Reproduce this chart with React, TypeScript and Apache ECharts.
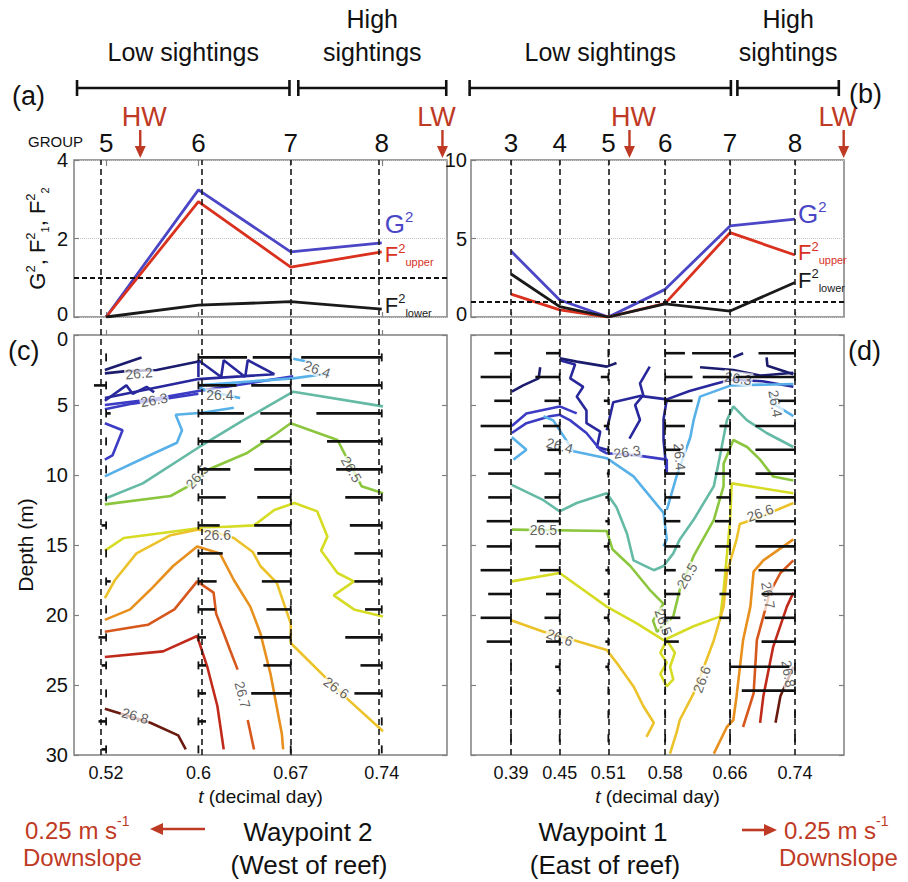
import React, { useEffect, useRef } from 'react';
import * as echarts from 'echarts';

// ---------------- DATA ----------------
// Waypoint 2 (panels a, c)
const stationsA = [0.524, 0.597, 0.67, 0.742];
const groupsA = ['5', '6', '7', '8'];
const tickLabelsA = ['0.52', '0.6', '0.67', '0.74'];
const g2A = [0, 3.24, 1.66, 1.89];
const fUpperA = [0, 2.94, 1.27, 1.66];
const fLowerA = [0, 0.3, 0.39, 0.2];

// Waypoint 1 (panels b, d)
const stationsB = [0.39, 0.45, 0.51, 0.58, 0.66, 0.74];
const groupsB = ['3', '4', '5', '6', '7', '8'];
const tickLabelsB = ['0.39', '0.45', '0.51', '0.58', '0.66', '0.74'];
const g2B = [4.2, 1.08, 0, 1.76, 5.8, 6.24];
const fUpperB = [1.46, 0.45, 0, 0.87, 5.37, 3.95];
const fLowerB = [2.74, 0.66, 0, 0.83, 0.38, 2.2];

const thresholdG2 = 1;

const tideA = [{ name: 'HW', t: 0.551 }, { name: 'LW', t: 0.79 }];
const tideB = [{ name: 'HW', t: 0.536 }, { name: 'LW', t: 0.8 }];

const sightingsA = [
  { name: 'Low sightings', from: 0.501, to: 0.669 },
  { name: 'High\nsightings', from: 0.676, to: 0.793 },
];
const sightingsB = [
  { name: 'Low sightings', from: 0.339, to: 0.661 },
  { name: 'High\nsightings', from: 0.669, to: 0.794 },
];

// velocity rows (depth, m) and eastward velocity (m/s) per station
const depthsC = [1.6, 3.6, 5.6, 7.6, 9.6, 11.6, 13.6, 15.6, 17.6, 19.6, 21.6, 23.6, 25.6, 27.6, 29.6];
const uC5 = [0, -0.08, 0.03, 0, 0, 0, -0.03, 0, 0.03, 0, -0.05, -0.03, 0, -0.05, -0.03];
const uC6 = [0.32, 0.25, 0.3, 0.28, 0.21, 0.18, 0.14, 0.16, 0.12, 0.11, 0.05, 0.05, 0.05, 0.05, 0];
const uC7 = [-0.25, -0.26, -0.2, -0.2, -0.24, -0.22, -0.24, -0.22, -0.19, -0.16, -0.24, -0.18, -0.26, 0, 0];
const uC8 = [-0.53, -0.53, -0.43, -0.36, -0.3, -0.24, -0.21, -0.18, -0.18, -0.11, -0.24, -0.14, -0.18, 0, 0];

const depthsD = [1.3, 3.0, 4.7, 6.5, 8.2, 9.9, 11.6, 13.3, 15.1, 16.8, 18.5, 20.2, 21.9, 23.7, 25.4, 27.1, 28.8];
const uD3 = [-0.11, -0.2, -0.11, -0.2, -0.11, -0.15, -0.15, -0.16, -0.16, -0.2, -0.15, -0.2, -0.16, 0, 0, 0, 0];
const uD4 = [-0.09, -0.16, -0.1, -0.11, -0.08, -0.1, -0.1, -0.15, -0.16, -0.13, -0.09, -0.1, -0.09, -0.03, -0.02, 0, 0];
const uD5 = [0, -0.05, -0.03, -0.03, -0.01, -0.01, -0.02, -0.02, -0.03, -0.02, -0.03, -0.03, -0.02, -0.02, 0, 0, 0];
const uD6 = [0.13, 0.18, 0.18, 0.13, 0.1, 0.13, 0.1, 0.1, 0.1, 0.07, 0.1, 0.1, 0.09, 0, 0, 0, 0];
const uD7 = [-0.25, -0.18, -0.08, -0.07, -0.1, -0.1, -0.09, -0.1, -0.1, -0.1, -0.07, -0.07, 0, 0.39, 0, 0, 0];
const uD8 = [-0.24, -0.39, -0.11, -0.26, -0.26, -0.26, -0.26, -0.26, -0.26, -0.24, -0.22, -0.2, -0.22, 0, -0.35, 0, 0];

// density contours, panel (c): [t, depth]
const c262a = [[0.523, 2.5], [0.552, 1.6]];
const c262b = [[0.523, 2.74], [0.538, 2.6], [0.564, 2.5], [0.597, 1.9]];
const c2625a = [[0.597, 3.0], [0.597, 1.8], [0.615, 3.0], [0.617, 1.8], [0.634, 3.0], [0.636, 1.8], [0.657, 2.8], [0.597, 3.15], [0.523, 4.5]];
const c2625b = [[0.523, 4.7], [0.54, 3.6], [0.545, 4.2], [0.556, 3.7], [0.562, 4.1]];
const c263a = [[0.523, 5.0], [0.56, 4.6], [0.597, 4.0], [0.64, 3.4], [0.672, 2.95]];
const c263b = [[0.523, 5.3], [0.545, 4.9], [0.575, 4.5], [0.597, 4.2]];
const c263c = [[0.523, 6.3], [0.537, 6.8], [0.529, 8.6], [0.523, 8.9]];
const c264a = [[0.523, 10.1], [0.556, 8.7], [0.58, 7.7], [0.584, 6.8], [0.579, 5.7], [0.6, 5.55], [0.625, 5.2]];
const c264b = [[0.597, 3.6], [0.64, 3.3], [0.672, 3.1], [0.7, 2.75]];
const c264c = [[0.672, 1.7], [0.686, 1.95]];
const c264d = [[0.597, 3.7], [0.604, 4.0], [0.63, 4.5]];
const c2645 = [[0.523, 11.7], [0.553, 10.6], [0.598, 7.98], [0.633, 6.07], [0.672, 4.05], [0.743, 5.1]];
const c265 = [[0.523, 12.1], [0.575, 11.5], [0.593, 10.6], [0.604, 9.64], [0.635, 8.45], [0.659, 7.02], [0.67, 6.3], [0.707, 7.5], [0.715, 8.9], [0.726, 10.8], [0.743, 11.3]];
const c2655 = [[0.523, 15.4], [0.538, 14.5], [0.597, 13.8], [0.641, 13.6], [0.657, 12.5], [0.673, 12.0], [0.691, 12.6], [0.699, 14.4], [0.694, 15.4], [0.707, 17.0], [0.72, 17.6], [0.704, 18.6], [0.72, 19.6], [0.743, 20.1]];
const c266 = [[0.523, 18.8], [0.531, 17.5], [0.548, 15.6], [0.575, 14.3], [0.597, 13.9], [0.611, 14.1], [0.625, 14.5], [0.64, 15.5], [0.646, 16.5], [0.659, 17.7], [0.67, 20.6], [0.67, 22.0], [0.699, 24.6], [0.71, 25.6], [0.743, 28.3]];
const c2665 = [[0.523, 20.35], [0.543, 19.6], [0.559, 18.2], [0.577, 16.5], [0.596, 15.1], [0.614, 15.6], [0.625, 17.5], [0.638, 19.4], [0.646, 21.3], [0.654, 24.2], [0.663, 28.5], [0.664, 29.6]];
const c267a = [[0.523, 21.2], [0.557, 20.7], [0.578, 19.6], [0.596, 17.6], [0.609, 18.4], [0.611, 19.9], [0.617, 21.3], [0.622, 22.5], [0.628, 23.9]];
const c267b = [[0.636, 27.5], [0.641, 29.6]];
const c2675 = [[0.523, 23.0], [0.569, 22.6], [0.596, 21.5], [0.604, 23.7], [0.612, 26.5], [0.617, 29.6]];
const c268 = [[0.523, 26.7], [0.559, 27.7], [0.581, 28.6], [0.587, 29.6]];

// density contours, panel (d)
const d262a = [[0.391, 4.05], [0.405, 3.6], [0.424, 3.1], [0.426, 2.3]];
const d262b = [[0.45, 1.67], [0.471, 1.9], [0.508, 2.26], [0.52, 2.0]];
const d262c = [[0.623, 2.3], [0.664, 2.5], [0.697, 2.9], [0.738, 2.7]];
const d262d = [[0.705, 1.6], [0.706, 2.2], [0.738, 2.8]];
const d262e = [[0.664, 1.6], [0.676, 1.3]];
const d2625a = [[0.45, 1.8], [0.469, 2.1], [0.463, 3.1], [0.479, 3.7], [0.471, 4.4], [0.483, 5.4], [0.483, 6.3], [0.5, 6.9], [0.496, 8.0], [0.508, 8.2]];
const d2625b = [[0.536, 7.4], [0.549, 6.07], [0.543, 5.0], [0.553, 4.3], [0.549, 3.45], [0.561, 2.26]];
const d2625c = [[0.508, 6.8], [0.516, 4.8], [0.549, 4.35], [0.582, 4.6], [0.578, 6.0], [0.578, 7.5], [0.582, 9.9]];
const d2625d = [[0.582, 4.6], [0.61, 4.0], [0.641, 3.5], [0.661, 3.2], [0.7, 3.3], [0.738, 3.7]];
const d263a = [[0.391, 7.0], [0.409, 6.3], [0.438, 5.8], [0.45, 5.7], [0.463, 6.1], [0.483, 7.0], [0.5, 8.2], [0.508, 8.45], [0.545, 8.6], [0.582, 8.9], [0.582, 9.9]];
const d263b = [[0.391, 6.5], [0.409, 5.6], [0.45, 5.1], [0.471, 5.6]];
const d264a = [[0.391, 7.3], [0.409, 8.2], [0.393, 8.9]];
const d264b = [[0.43, 5.8], [0.442, 6.1], [0.467, 8.3], [0.508, 8.8], [0.541, 10.1], [0.578, 12.7], [0.582, 14.6], [0.578, 15.1]];
const d264c = [[0.738, 3.5], [0.661, 3.6], [0.623, 4.4], [0.615, 6.1], [0.611, 7.3], [0.594, 10.1], [0.582, 12.5]];
const d264d = [[0.709, 4.1], [0.713, 4.9], [0.738, 5.8]];
const d2645 = [[0.391, 10.7], [0.43, 11.8], [0.45, 12.6], [0.471, 12.0], [0.508, 11.3], [0.52, 12.3], [0.533, 14.2], [0.541, 16.1], [0.566, 16.8], [0.578, 16.5], [0.59, 15.6], [0.598, 14.6], [0.615, 13.2], [0.64, 10.8], [0.648, 8.5], [0.656, 6.1], [0.664, 5.1], [0.681, 6.1], [0.705, 7.0], [0.738, 8.0]];
const d265 = [[0.391, 13.9], [0.508, 14.0], [0.515, 15.3], [0.537, 16.5], [0.561, 18.2], [0.578, 19.2], [0.565, 20.4], [0.57, 21.2], [0.59, 20.1], [0.598, 18.2], [0.615, 15.8], [0.64, 13.2], [0.652, 10.8], [0.652, 9.2], [0.664, 7.5], [0.681, 8.0], [0.697, 8.9], [0.713, 10.1], [0.738, 10.4]];
const d2655a = [[0.391, 17.6], [0.45, 17.0], [0.508, 19.4], [0.545, 20.6], [0.578, 21.8], [0.615, 20.8], [0.648, 20.1], [0.652, 18.2], [0.656, 15.8], [0.66, 13.2], [0.662, 10.6], [0.738, 11.3]];
const d2655b = [[0.582, 21.8], [0.574, 22.7], [0.582, 23.4], [0.574, 24.2], [0.582, 25.1], [0.59, 24.6], [0.586, 23.7], [0.592, 22.7], [0.582, 21.8]];
const d266a = [[0.391, 20.4], [0.43, 21.2], [0.45, 21.5], [0.508, 22.5], [0.52, 23.4], [0.541, 25.1], [0.553, 26.5], [0.566, 27.7], [0.557, 28.7]];
const d266b = [[0.586, 29.9], [0.594, 28.4], [0.598, 27.5], [0.615, 25.6], [0.631, 23.2], [0.64, 21.8], [0.652, 19.4], [0.656, 17.0], [0.668, 14.6], [0.672, 13.5], [0.697, 13.0], [0.738, 12.0]];
const d2665 = [[0.64, 29.9], [0.656, 28.0], [0.664, 27.5], [0.668, 25.8], [0.676, 21.8], [0.685, 19.4], [0.689, 16.9], [0.701, 16.1], [0.738, 14.6]];
const d267 = [[0.676, 28.0], [0.689, 25.6], [0.693, 21.8], [0.709, 18.4], [0.722, 17.0], [0.738, 16.1]];
const d2675 = [[0.697, 27.7], [0.701, 25.8], [0.713, 22.3], [0.73, 19.4], [0.738, 18.4]];
const d268 = [[0.716, 27.7], [0.722, 25.8], [0.738, 23.7]];

// contour labels: [t, depth, text, rotation]
const labelsC: [number, number, string, number][] = [
  [0.55, 2.74, '26.2', 5], [0.562, 4.64, '26.3', 10], [0.614, 4.3, '26.4', 0], [0.691, 2.45, '26.4', -20],
  [0.596, 10.1, '26.5', 50], [0.718, 9.6, '26.5', -60], [0.612, 14.3, '26.6', 0], [0.706, 25.2, '26.6', -35],
  [0.632, 25.7, '26.7', -75], [0.547, 27.2, '26.8', -15],
];
const labelsD: [number, number, string, number][] = [
  [0.45, 7.9, '26.4', -15], [0.533, 8.35, '26.3', 8], [0.598, 8.7, '26.4', -85], [0.67, 3.1, '26.3', -8],
  [0.716, 4.9, '26.4', -80], [0.43, 13.9, '26.5', 0], [0.607, 17.2, '26.5', 60], [0.578, 20.5, '26.5', -70],
  [0.45, 21.6, '26.6', -20], [0.625, 24.6, '26.6', 70], [0.697, 12.7, '26.6', 20], [0.707, 18.6, '26.7', -80],
  [0.732, 24.2, '26.8', -80],
];

const contoursC: [string, number[][]][] = [
  ['26.2', c262a], ['26.2', c262b], ['26.25', c2625a], ['26.25', c2625b], ['26.3', c263a], ['26.3', c263b], ['26.3', c263c],
  ['26.4', c264a], ['26.4', c264b], ['26.4', c264c], ['26.4', c264d], ['26.45', c2645], ['26.5', c265], ['26.55', c2655],
  ['26.6', c266], ['26.65', c2665], ['26.7', c267a], ['26.7', c267b], ['26.75', c2675], ['26.8', c268],
];
const contoursD: [string, number[][]][] = [
  ['26.2', d262a], ['26.2', d262b], ['26.2', d262c], ['26.2', d262d], ['26.2', d262e], ['26.25', d2625a], ['26.25', d2625b],
  ['26.25', d2625c], ['26.25', d2625d], ['26.3', d263a], ['26.3', d263b], ['26.4', d264a], ['26.4', d264b], ['26.4', d264c],
  ['26.4', d264d], ['26.45', d2645], ['26.5', d265], ['26.55', d2655a], ['26.55', d2655b], ['26.6', d266a], ['26.6', d266b],
  ['26.65', d2665], ['26.7', d267], ['26.75', d2675], ['26.8', d268],
];

// ---------------- STYLE ----------------
const FONT = '"Liberation Sans", Arial, Helvetica, sans-serif';
const RED = '#bf3a24';
const BLUE = '#4a46c6';
const LRED = '#d9311e';
const FRAME = '#808080';
const ARROW_PX_PER_MS = 152;
const levelColors: Record<string, string> = {
  '26.2': '#1c1c6e', '26.25': '#28289c', '26.3': '#3b3bc4', '26.4': '#58b0e8', '26.45': '#64baa4',
  '26.5': '#8cc63e', '26.55': '#d6dc24', '26.6': '#ecc22a', '26.65': '#e8901e', '26.7': '#d6581c',
  '26.75': '#c02a1a', '26.8': '#6a1a0e',
};
const X_RANGE_A = [0.4986, 0.7936];
const X_RANGE_B = [0.3407, 0.8004];

const labelAt = (vals: number[], labels: string[]) => (v: number) => {
  let best = 0;
  vals.forEach((s, i) => { if (Math.abs(s - v) < Math.abs(vals[best] - v)) best = i; });
  return labels[best];
};

const supRich = (main: number, color: string) => ({
  m: { fontSize: main, lineHeight: main + 4, verticalAlign: 'middle', color, fontFamily: FONT },
  s: { fontSize: Math.round(main * 0.58), verticalAlign: 'top', color, fontFamily: FONT },
  u: { fontSize: Math.round(main * 0.5), verticalAlign: 'bottom', color, fontFamily: FONT },
});

function buildOption() {
  const grids = [
    { left: 74, top: 160, width: 373, height: 157, show: true },
    { left: 471, top: 160, width: 373, height: 157, show: true },
    { left: 74, top: 335, width: 373, height: 420, show: true },
    { left: 471, top: 335, width: 373, height: 420, show: true },
    { left: 74, top: 160, width: 373, height: 595, show: false },
    { left: 471, top: 160, width: 373, height: 595, show: false },
  ].map((g) => ({ ...g, borderColor: FRAME, borderWidth: 1.5, backgroundColor: 'transparent' }));

  const tick = (vals: number[], len = 5) => ({ show: true, inside: true, length: len, customValues: vals, lineStyle: { color: FRAME, width: 1.2 } });
  const xNameStyle = { fontSize: 19, color: '#111', rich: { i: { fontStyle: 'italic', fontSize: 19, color: '#111', fontFamily: FONT } } };

  const xAxis: any[] = [
    { gridIndex: 0, type: 'value', min: X_RANGE_A[0], max: X_RANGE_A[1], axisLine: { show: false }, axisTick: tick(stationsA), axisLabel: { show: false }, splitLine: { show: false } },
    { gridIndex: 1, type: 'value', min: X_RANGE_B[0], max: X_RANGE_B[1], axisLine: { show: false }, axisTick: tick(stationsB), axisLabel: { show: false }, splitLine: { show: false } },
    {
      gridIndex: 2, type: 'value', min: X_RANGE_A[0], max: X_RANGE_A[1], axisLine: { show: false }, axisTick: tick(stationsA), splitLine: { show: false },
      axisLabel: { show: true, customValues: stationsA, formatter: labelAt(stationsA, tickLabelsA), fontSize: 18, color: '#111', margin: 9 },
      name: '{i|t} (decimal day)', nameLocation: 'middle', nameGap: 32, nameTextStyle: xNameStyle,
    },
    {
      gridIndex: 3, type: 'value', min: X_RANGE_B[0], max: X_RANGE_B[1], axisLine: { show: false }, axisTick: tick(stationsB), splitLine: { show: false },
      axisLabel: { show: true, customValues: stationsB, formatter: labelAt(stationsB, tickLabelsB), fontSize: 18, color: '#111', margin: 9 },
      name: '{i|t} (decimal day)', nameLocation: 'middle', nameGap: 32, nameTextStyle: xNameStyle,
    },
    {
      gridIndex: 0, type: 'value', position: 'top', min: X_RANGE_A[0], max: X_RANGE_A[1], axisLine: { show: false }, axisTick: tick(stationsA, 6), splitLine: { show: false },
      axisLabel: { show: true, customValues: stationsA, formatter: labelAt(stationsA, groupsA), fontSize: 26, lineHeight: 24, color: '#111', margin: 5 },
    },
    {
      gridIndex: 1, type: 'value', position: 'top', min: X_RANGE_B[0], max: X_RANGE_B[1], axisLine: { show: false }, axisTick: tick(stationsB, 6), splitLine: { show: false },
      axisLabel: { show: true, customValues: stationsB, formatter: labelAt(stationsB, groupsB), fontSize: 26, lineHeight: 24, color: '#111', margin: 5 },
    },
    { gridIndex: 4, type: 'value', min: X_RANGE_A[0], max: X_RANGE_A[1], show: false },
    { gridIndex: 5, type: 'value', min: X_RANGE_B[0], max: X_RANGE_B[1], show: false },
  ];

  const yTick = { show: true, inside: true, length: 5, lineStyle: { color: FRAME, width: 1.2 } };
  const dotted = { show: true, lineStyle: { type: 'dotted', color: '#c4c4c4', width: 1 } };
  const yLabTop = { fontSize: 20, lineHeight: 7, color: '#111', margin: 6, verticalAlignMinLabel: 'bottom' };
  const yLabDepth = { fontSize: 20, lineHeight: 7, color: '#111', margin: 6, verticalAlignMinLabel: 'top' };
  const yAxis: any[] = [
    {
      gridIndex: 0, type: 'value', min: 0, max: 4, interval: 2, axisLine: { show: false }, axisTick: yTick, splitLine: dotted,
      axisLabel: yLabTop,
      name: '{m|G}{s|2}{m|, F}{s|2}{u|1}{m|, F}{s|2}{u|2}', nameLocation: 'middle', nameRotate: 90, nameGap: 24,
      nameTextStyle: { rich: supRich(22, '#111') },
    },
    { gridIndex: 1, type: 'value', min: 0, max: 10, interval: 5, axisLine: { show: false }, axisTick: yTick, splitLine: dotted, axisLabel: { ...yLabTop, margin: 4 } },
    {
      gridIndex: 2, type: 'value', inverse: true, min: 0, max: 30, interval: 5, axisLine: { show: false }, axisTick: yTick, splitLine: { show: false },
      axisLabel: yLabDepth,
      name: 'Depth (m)', nameLocation: 'middle', nameGap: 38, nameTextStyle: { fontSize: 21, color: '#111' },
    },
    { gridIndex: 3, type: 'value', inverse: true, min: 0, max: 30, interval: 5, axisLine: { show: false }, axisTick: yTick, splitLine: { show: false }, axisLabel: { show: false } },
    { gridIndex: 4, type: 'value', min: 0, max: 1, show: false },
    { gridIndex: 5, type: 'value', min: 0, max: 1, show: false },
    { gridIndex: 2, type: 'value', position: 'right', inverse: true, min: 0, max: 30, interval: 5, axisLine: { show: false }, axisTick: yTick, splitLine: { show: false }, axisLabel: { show: false } },
    { gridIndex: 3, type: 'value', position: 'right', inverse: true, min: 0, max: 30, interval: 5, axisLine: { show: false }, axisTick: yTick, splitLine: { show: false }, axisLabel: { show: false } },
  ];

  const series: any[] = [];

  // dashed station lines through both panels
  [[stationsA, 6, 4], [stationsB, 7, 5]].forEach(([st, xi, yi]: any) => {
    series.push({
      type: 'line', xAxisIndex: xi, yAxisIndex: yi, data: [[st[0], 0]], showSymbol: false, symbol: 'none', lineStyle: { width: 0 }, z: 1, silent: true,
      markLine: { silent: true, symbol: ['none', 'none'], label: { show: false }, lineStyle: { type: [6, 4], color: '#1a1a1a', width: 1.6 }, data: st.map((t: number) => ({ xAxis: t })) },
    });
  });

  // top panels
  const topPanels = [
    { st: stationsA, g: g2A, fu: fUpperA, fl: fLowerA, xi: 0, yi: 0, off: { g: [0, -19], fu: [0, 3], fl: [0, -4] } },
    { st: stationsB, g: g2B, fu: fUpperB, fl: fLowerB, xi: 1, yi: 1, off: { g: [0, -5], fu: [0, -2], fl: [0, -2] } },
  ];
  topPanels.forEach((p) => {
    const mk = (vals: number[], color: string, text: string, rich: any, offset: number[], extra: any = {}) => ({
      type: 'line', xAxisIndex: p.xi, yAxisIndex: p.yi, symbol: 'none', z: 3,
      data: p.st.map((t, i) => [t, vals[i]]), lineStyle: { color, width: 2.8 },
      endLabel: { show: true, formatter: () => text, rich, offset, distance: 3 },
      ...extra,
    });
    series.push(mk(p.g, BLUE, '{m|G}{s|2}', supRich(26, BLUE), p.off.g));
    series.push(mk(p.fu, LRED, '{m|F}{s|2}{u|upper}', supRich(22, LRED), p.off.fu));
    series.push(mk(p.fl, '#1a1a1a', '{m|F}{s|2}{u|lower}', supRich(22, '#1a1a1a'), p.off.fl, {
      markLine: { silent: true, symbol: ['none', 'none'], label: { show: false }, lineStyle: { type: [5, 3], color: '#111', width: 2.2 }, data: [{ yAxis: thresholdG2 }] },
    }));
  });

  // contours
  const pushContours = (list: [string, number[][]][], xi: number, yi: number) => {
    list.forEach(([lvl, data]) => {
      series.push({ type: 'line', xAxisIndex: xi, yAxisIndex: yi, symbol: 'none', data, z: 2, silent: true, lineStyle: { color: levelColors[lvl], width: 2.6 } });
    });
  };
  pushContours(contoursC, 2, 2);
  pushContours(contoursD, 3, 3);

  // contour labels
  const pushLabels = (list: [number, number, string, number][], xi: number, yi: number) => {
    series.push({
      type: 'scatter', xAxisIndex: xi, yAxisIndex: yi, symbolSize: 1, z: 4, silent: true,
      itemStyle: { color: 'transparent' },
      label: { show: true, position: 'inside', fontSize: 14, color: '#3a3a3a', backgroundColor: 'rgba(255,255,255,0.9)', padding: [0, 1] },
      data: list.map(([t, d, txt, rot]) => ({ value: [t, d], label: { formatter: txt, rotate: rot } })),
    });
  };
  pushLabels(labelsC, 2, 2);
  pushLabels(labelsD, 3, 3);

  // velocity sticks
  const rows = (st: number[], depths: number[], cols: number[][]) => {
    const out: number[][] = [];
    st.forEach((t, i) => depths.forEach((d, j) => out.push([t, d, cols[i][j]])));
    return out;
  };
  const arrowSeries = (data: number[][], xi: number, yi: number) => ({
    type: 'custom', xAxisIndex: xi, yAxisIndex: yi, z: 5, silent: true, clip: false,
    dimensions: ['t', 'depth', 'u'], encode: { x: 't', y: 'depth' }, data,
    renderItem: (_params: any, api: any) => {
      const p = api.coord([api.value(0), api.value(1)]);
      const len = (api.value(2) as number) * ARROW_PX_PER_MS;
      return {
        type: 'group', children: [
          { type: 'line', shape: { x1: p[0], y1: p[1], x2: p[0] + len, y2: p[1] }, style: { stroke: '#111', lineWidth: 2.6 } },
          { type: 'line', shape: { x1: p[0], y1: p[1] - 4, x2: p[0], y2: p[1] + 4 }, style: { stroke: '#111', lineWidth: 1.8 } },
        ],
      };
    },
  });
  series.push(arrowSeries(rows(stationsA, depthsC, [uC5, uC6, uC7, uC8]), 2, 2));
  series.push(arrowSeries(rows(stationsB, depthsD, [uD3, uD4, uD5, uD6, uD7, uD8]), 3, 3));

  return {
    animation: false,
    backgroundColor: '#fff',
    textStyle: { fontFamily: FONT },
    grid: grids,
    xAxis,
    yAxis,
    series,
  };
}

function txt(x: number, y: number, text: string, size: number, color: string, align = 'center', vAlign = 'middle', extra: any = {}) {
  return {
    type: 'text', x, y, silent: true,
    style: { text, fontSize: size, fontFamily: FONT, fill: color, align, verticalAlign: vAlign, textAlign: align, textVerticalAlign: vAlign, ...extra },
  };
}

function buildGraphics(chart: any) {
  const X = (axis: number, v: number) => chart.convertToPixel({ xAxisIndex: axis }, v) as number;
  const Y = (axis: number, v: number) => chart.convertToPixel({ yAxisIndex: axis }, v) as number;
  const els: any[] = [];
  const top = Y(0, 4);
  const barY = top - 72;

  const line = (x1: number, y1: number, x2: number, y2: number, color: string, w: number) =>
    ({ type: 'line', silent: true, shape: { x1, y1, x2, y2 }, style: { stroke: color, lineWidth: w } });

  [[sightingsA, 0], [sightingsB, 1]].forEach(([list, ax]: any) => {
    list.forEach((s: any) => {
      const x1 = X(ax, s.from);
      const x2 = X(ax, s.to);
      els.push(line(x1, barY, x2, barY, '#111', 2.6));
      els.push(line(x1, barY - 8, x1, barY + 8, '#111', 2.6));
      els.push(line(x2, barY - 8, x2, barY + 8, '#111', 2.6));
      els.push(txt((x1 + x2) / 2, barY - 20, s.name, 25, '#111', 'center', 'bottom', { lineHeight: 33 }));
    });
  });

  [[tideA, 0], [tideB, 1]].forEach(([list, ax]: any) => {
    list.forEach((h: any) => {
      const x = X(ax, h.t);
      const shift = h.name === 'LW' ? -6 : 4;
      els.push(txt(x + shift, top - 43, h.name, 27, RED));
      els.push(line(x, top - 30, x, top - 12, RED, 2.4));
      els.push({ type: 'polygon', silent: true, shape: { points: [[x - 5.5, top - 14], [x + 5.5, top - 14], [x, top - 2]] }, style: { fill: RED } });
    });
  });

  els.push(txt(28, top - 19, 'GROUP', 15, '#111', 'left'));
  els.push(txt(12, 96, '(a)', 27, '#111', 'left'));
  els.push(txt(849, 94, '(b)', 27, '#111', 'left'));
  els.push(txt(8, 351, '(c)', 27, '#111', 'left'));
  els.push(txt(848, 351, '(d)', 27, '#111', 'left'));

  const speedRich = { n: { fontSize: 24, fill: RED, fontFamily: FONT, verticalAlign: 'bottom', lineHeight: 28 }, p: { fontSize: 14, fill: RED, fontFamily: FONT, verticalAlign: 'top' } };
  els.push(txt(25, 828, '{n|0.25 m s}{p|-1}', 24, RED, 'left', 'middle', { rich: speedRich }));
  els.push(txt(23, 857, 'Downslope', 24, RED, 'left'));
  els.push(line(205, 829, 160, 829, RED, 2.6));
  els.push({ type: 'polygon', silent: true, shape: { points: [[150, 829], [163, 823], [163, 835]] }, style: { fill: RED } });

  els.push(txt(308, 832, 'Waypoint 2', 26, '#111'));
  els.push(txt(309, 865, '(West of reef)', 26, '#111'));
  els.push(txt(603, 832, 'Waypoint 1', 26, '#111'));
  els.push(txt(605, 865, '(East of reef)', 26, '#111'));

  els.push(line(742, 830, 766, 830, RED, 2.6));
  els.push({ type: 'polygon', silent: true, shape: { points: [[777, 830], [764, 824], [764, 836]] }, style: { fill: RED } });
  els.push(txt(784, 828, '{n|0.25 m s}{p|-1}', 24, RED, 'left', 'middle', { rich: speedRich }));
  els.push(txt(779, 857, 'Downslope', 24, RED, 'left'));

  return els;
}

export default function App() {
  const ref = useRef<HTMLDivElement>(null);
  useEffect(() => {
    if (!ref.current) return;
    const chart = echarts.init(ref.current, null, { renderer: 'svg' });
    chart.setOption(buildOption() as any);
    chart.setOption({ graphic: buildGraphics(chart) } as any);
    return () => chart.dispose();
  }, []);
  return <div ref={ref} style={{ position: 'fixed', left: 0, top: 0, width: 908, height: 882, background: '#fff' }} />;
}
